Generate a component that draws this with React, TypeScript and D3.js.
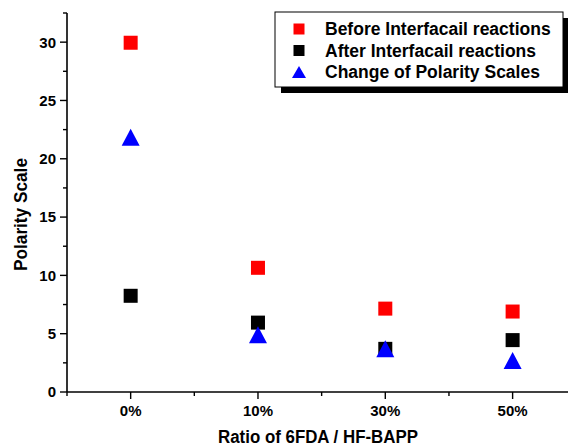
import * as d3 from "d3";

// ratio categories on the x axis
const categories = ["0%", "10%", "30%", "50%"];

// polarity scale values
const beforeValues = [29.95, 10.65, 7.15, 6.9];
const afterValues = [8.25, 5.95, 3.7, 4.45];
const changeValues = [21.85, 4.9, 3.7, 2.7];

const yTicks = [0, 5, 10, 15, 20, 25, 30];
const yMinor = [2.5, 7.5, 12.5, 17.5, 22.5, 27.5, 32.5];

const legendLabels = [
  "Before Interfacail reactions",
  "After Interfacail reactions",
  "Change of Polarity Scales",
];

const width = 568;
const height = 448;
const margin = { top: 13, right: 0, bottom: 56, left: 67 };
const font = "'Liberation Sans', Arial, Helvetica, sans-serif";

const Triangle = ({ cx, cy, w, h, fill }) => (
  <path
    d={`M${cx},${cy - h / 2}L${cx + w / 2},${cy + h / 2}L${cx - w / 2},${cy + h / 2}Z`}
    fill={fill}
  />
);

const Square = ({ cx, cy, s, fill }) => (
  <rect x={cx - s / 2} y={cy - s / 2} width={s} height={s} fill={fill} />
);

export default function App() {
  const x = d3
    .scaleLinear()
    .domain([-0.5, 3.435])
    .range([margin.left, width - margin.right]);

  const y = d3
    .scaleLinear()
    .domain([0, 32.5])
    .range([height - margin.bottom, margin.top]);

  const x0 = x(-0.5);
  const y0 = y(0);
  const minorX = [-0.5, 0.5, 1.5, 2.5];

  const lx = 275;
  const ly = 12;
  const lw = 288;
  const lh = 75;

  return (
    <svg
      width={width}
      height={height}
      style={{ position: "absolute", left: 0, top: 0, background: "#fff" }}
      fontFamily={font}
      fontWeight="bold"
    >
      {/* axes */}
      <line x1={x0} x2={x0} y1={y(32.5)} y2={y0} stroke="#000" strokeWidth={1.6} />
      <line x1={x0} x2={width} y1={y0} y2={y0} stroke="#000" strokeWidth={1.6} />

      {yTicks.map((t) => (
        <g key={t}>
          <line x1={x0 - 7} x2={x0} y1={y(t)} y2={y(t)} stroke="#000" strokeWidth={1.4} />
          <text x={x0 - 11} y={y(t)} dy="0.36em" textAnchor="end" fontSize={15}>
            {t}
          </text>
        </g>
      ))}
      {yMinor.map((t) => (
        <line key={t} x1={x0 - 4} x2={x0} y1={y(t)} y2={y(t)} stroke="#000" strokeWidth={1.4} />
      ))}

      {categories.map((c, i) => (
        <g key={c}>
          <line x1={x(i)} x2={x(i)} y1={y0} y2={y0 + 7} stroke="#000" strokeWidth={1.4} />
          <text x={x(i)} y={y0 + 24} textAnchor="middle" fontSize={15}>
            {c}
          </text>
        </g>
      ))}
      {minorX.map((v) => (
        <line key={v} x1={x(v)} x2={x(v)} y1={y0} y2={y0 + 4} stroke="#000" strokeWidth={1.4} />
      ))}

      {/* axis titles */}
      <text
        x={218}
        y={443}
        fontSize={17.5}
        textLength={200}
        lengthAdjust="spacingAndGlyphs"
      >
        Ratio of 6FDA / HF-BAPP
      </text>
      <text
        transform={`translate(27,271) rotate(-90)`}
        fontSize={17.5}
        textLength={113}
        lengthAdjust="spacingAndGlyphs"
      >
        Polarity Scale
      </text>

      {/* data */}
      {beforeValues.map((v, i) => (
        <Square key={"b" + i} cx={x(i)} cy={y(v)} s={14} fill="#ff0000" />
      ))}
      {afterValues.map((v, i) => (
        <Square key={"a" + i} cx={x(i)} cy={y(v)} s={14} fill="#000000" />
      ))}
      {changeValues.map((v, i) => (
        <Triangle key={"c" + i} cx={x(i)} cy={y(v)} w={18} h={17} fill="#0000ff" />
      ))}

      {/* legend */}
      <rect x={lx + 6} y={ly + 6} width={lw} height={lh} fill="#000" />
      <rect x={lx} y={ly} width={lw} height={lh} fill="#fff" stroke="#000" strokeWidth={1} />
      {legendLabels.map((label, i) => {
        const cy = ly + 17 + i * 21.5;
        return (
          <g key={label}>
            {i === 2 ? (
              <Triangle cx={lx + 24} cy={cy} w={14} h={12} fill="#0000ff" />
            ) : (
              <Square cx={lx + 24} cy={cy} s={11} fill={i === 0 ? "#ff0000" : "#000"} />
            )}
            <text x={lx + 50} y={cy} dy="0.36em" fontSize={17.5}>
              {label}
            </text>
          </g>
        );
      })}
    </svg>
  );
}
